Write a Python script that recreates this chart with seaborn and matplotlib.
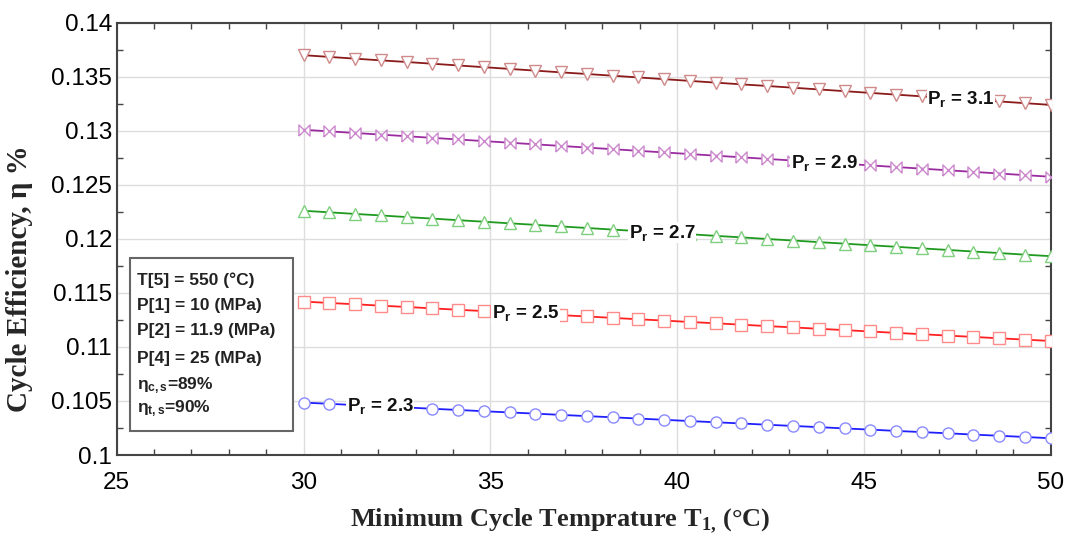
import numpy as np
import pandas as pd
import matplotlib
matplotlib.use("Agg")
import matplotlib.pyplot as plt
from matplotlib.patches import Rectangle
from matplotlib.ticker import MultipleLocator, FixedLocator
import seaborn as sns

# ---------------- data ----------------
t1 = np.linspace(30, 50, 30)  # minimum cycle temperature grid (°C)

eta_31 = [0.13700, 0.13684, 0.13668, 0.13652, 0.13637, 0.13621, 0.13605, 0.13589, 0.13573, 0.13557,
          0.13541, 0.13526, 0.13510, 0.13494, 0.13478, 0.13462, 0.13446, 0.13430, 0.13415, 0.13399,
          0.13383, 0.13367, 0.13351, 0.13335, 0.13319, 0.13304, 0.13288, 0.13272, 0.13256, 0.13240]
eta_29 = [0.13010, 0.12995, 0.12980, 0.12965, 0.12950, 0.12935, 0.12920, 0.12905, 0.12890, 0.12875,
          0.12860, 0.12845, 0.12830, 0.12815, 0.12800, 0.12785, 0.12770, 0.12755, 0.12740, 0.12725,
          0.12710, 0.12695, 0.12680, 0.12665, 0.12650, 0.12635, 0.12620, 0.12605, 0.12590, 0.12575]
eta_27 = [0.12260, 0.12246, 0.12231, 0.12217, 0.12202, 0.12188, 0.12173, 0.12159, 0.12144, 0.12130,
          0.12115, 0.12101, 0.12086, 0.12072, 0.12057, 0.12043, 0.12028, 0.12014, 0.11999, 0.11985,
          0.11970, 0.11956, 0.11941, 0.11927, 0.11912, 0.11898, 0.11883, 0.11869, 0.11854, 0.11840]
eta_25 = [0.11420, 0.11407, 0.11395, 0.11382, 0.11370, 0.11357, 0.11344, 0.11332, 0.11319, 0.11307,
          0.11294, 0.11282, 0.11269, 0.11256, 0.11244, 0.11231, 0.11219, 0.11206, 0.11193, 0.11181,
          0.11168, 0.11156, 0.11143, 0.11130, 0.11118, 0.11105, 0.11093, 0.11080, 0.11068, 0.11055]
eta_23 = [0.10485, 0.10474, 0.10462, 0.10451, 0.10440, 0.10428, 0.10417, 0.10405, 0.10394, 0.10383,
          0.10371, 0.10360, 0.10349, 0.10337, 0.10326, 0.10314, 0.10303, 0.10292, 0.10280, 0.10269,
          0.10258, 0.10246, 0.10235, 0.10223, 0.10212, 0.10201, 0.10189, 0.10178, 0.10167, 0.10155]

pressure_ratios = ["3.1", "2.9", "2.7", "2.5", "2.3"]
label_x = [47.6, 43.95, 39.6, 35.95, 32.05]

x_ticks = [25, 30, 35, 40, 45, 50]
y_ticks = [0.1, 0.105, 0.11, 0.115, 0.12, 0.125, 0.13, 0.135, 0.14]
y_ticklabels = ["0.1", "0.105", "0.11", "0.115", "0.12", "0.125", "0.13", "0.135", "0.14"]

info_lines = ["T[5] = 550 (°C)", "P[1] = 10 (MPa)", "P[2] = 11.9 (MPa)", "P[4] = 25 (MPa)",
              r"η$_\mathsf{c,s}$=89%", r"η$_\mathsf{t,s}$=90%"]

# ---------------- style ----------------
sns.set_theme(style="ticks")
plt.rcParams["font.family"] = ["Liberation Sans", "DejaVu Sans"]
plt.rcParams["mathtext.fontset"] = "custom"
plt.rcParams["mathtext.rm"] = "Liberation Sans"
plt.rcParams["mathtext.it"] = "Liberation Sans:italic"
plt.rcParams["mathtext.sf"] = "Liberation Sans:bold"
plt.rcParams["mathtext.bf"] = "Liberation Serif:bold"

series = [eta_31, eta_29, eta_27, eta_25, eta_23]
line_colors = ["#8b1a1a", "#9b2ca0", "#1f9a1f", "#ff2020", "#2020ff"]
edge_colors = ["#d08a8a", "#cc88cc", "#7fcf7f", "#ff8a8a", "#8a8aff"]
bowtie = [(-1, -1), (1, 1), (1, -1), (-1, 1), (-1, -1)]
markers = ["v", bowtie, "^", "s", "o"]

fig = plt.figure(figsize=(10.71, 5.42), dpi=100)
ax = fig.add_axes([0.109, 0.1605, 0.872, 0.7975])

for vals, pr, lc, ec, mk, lx in zip(series, pressure_ratios, line_colors, edge_colors, markers, label_x):
    df = pd.DataFrame({"T1": t1, "eta": vals})
    sns.lineplot(data=df, x="T1", y="eta", ax=ax, color=lc, lw=1.3,
                 marker=mk, markersize=8, markerfacecolor="white",
                 markeredgecolor=ec, markeredgewidth=1.0, zorder=3)
    ly = float(np.interp(lx, t1, vals))
    ax.text(lx, ly, r"P$_\mathsf{r}$ = " + pr, fontsize=13.5, fontweight="bold",
            ha="center", va="center", color="#111111", zorder=5,
            bbox=dict(facecolor="white", edgecolor="none", pad=0.5))

ax.set_xlim(25, 50)
ax.set_ylim(0.1, 0.14)
ax.xaxis.set_major_locator(FixedLocator(x_ticks))
ax.yaxis.set_major_locator(FixedLocator(y_ticks))
ax.set_yticklabels(y_ticklabels)
ax.xaxis.set_minor_locator(MultipleLocator(1))
ax.yaxis.set_minor_locator(MultipleLocator(0.0025))
ax.tick_params(which="both", direction="in", top=True, right=True, colors="#444444",
               labelcolor="black", labelsize=17.5)
ax.tick_params(which="major", length=0)
ax.tick_params(which="minor", length=4, width=1)
ax.tick_params(axis="x", pad=12)
ax.grid(True, which="major", color="#dddddd", lw=1)
for s in ax.spines.values():
    s.set_color("#444444")
    s.set_linewidth(1.5)

ax.set_xlabel(r"Minimum Cycle Temprature T$_\mathbf{1,}\,$(°C)", family="Liberation Serif",
              fontweight="bold", fontsize=19)
ax.set_ylabel("Cycle Efficiency, η %", family="Liberation Serif", fontweight="bold",
              fontsize=21)
ax.xaxis.set_label_coords(0.4746, -0.118)
ax.yaxis.set_label_coords(-0.0896, 0.407)

# info box
ax.add_patch(Rectangle((0.0142, 0.0555), 0.1746, 0.4002, transform=ax.transAxes,
                       facecolor="white", edgecolor="#666666", lw=1.5, zorder=6))
info_y = [0.405, 0.345, 0.2875, 0.2244, 0.160, 0.106]
for txt, yy in zip(info_lines, info_y):
    ax.text(0.0217, yy, txt, transform=ax.transAxes, fontsize=12.5, fontweight="bold",
            ha="left", va="center", color="#222222", zorder=7)

fig.savefig("out.png", dpi=100)
